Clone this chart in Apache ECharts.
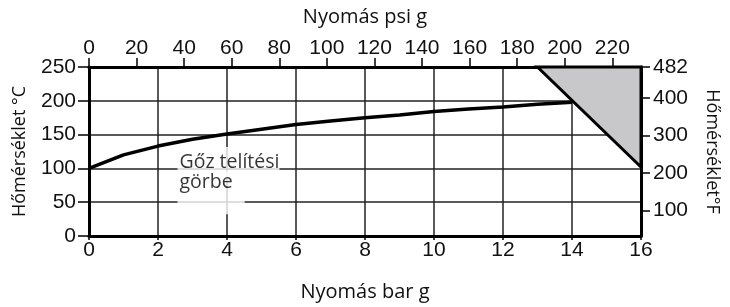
<!DOCTYPE html>
<html>
<head>
<meta charset="utf-8">
<script src="https://cdn.jsdelivr.net/npm/echarts@6/dist/echarts.min.js"></script>
<style>
  html, body { margin: 0; padding: 0; background: #fff; }
  #chart { width: 730px; height: 307px; }
</style>
</head>
<body>
<div id="chart"></div>
<script>
// telitesi gorbe (bar g -> °C)
const pressureBar = [0, 1, 2, 3, 4, 5, 6, 7, 8, 9, 10, 11, 12, 13, 14];
const tempC = [100, 120, 133, 143, 151, 158, 165, 170, 175, 179, 184, 188, 191, 195, 198];

// szurke haromszog csucsai
const zoneBar = [13, 16, 16];
const zoneTemp = [250, 250, 102];

const fahrenheitLabels = [100, 200, 300, 400, 482];
const noteLines = ["Gőz telítési", "görbe"];
const notePos = [[2.58, 131], [2.58, 95]];

const tickFont = "'Liberation Sans', Arial, sans-serif";
const textFont = "'Open Sans', sans-serif";

const chart = echarts.init(document.getElementById("chart"));

const notePadding = [[4, 0, 5, 2], [0, 12, 21, 2]];

chart.setOption({
  animation: false,
  grid: { left: 89, right: 89, top: 67, bottom: 70 },
  xAxis: [
    {
      type: "value",
      position: "bottom",
      min: 0,
      max: 16,
      interval: 2,
      name: "Nyomás bar g",
      nameLocation: "middle",
      nameGap: 46,
      nameTextStyle: { fontFamily: textFont, fontSize: 20, color: "#111" },
      axisLine: { onZero: false, lineStyle: { color: "#000", width: 3 } },
      axisTick: { show: true, length: 4, lineStyle: { color: "#000", width: 1.5 } },
      axisLabel: { fontFamily: tickFont, fontSize: 21, color: "#111", margin: 4 },
      splitLine: { show: true, lineStyle: { color: "#222", width: 1.5 } },
    },
    {
      type: "value",
      position: "top",
      min: 0,
      max: 16 * 14.5038,
      interval: 20,
      name: "Nyomás psi g",
      nameLocation: "middle",
      nameGap: 40,
      nameTextStyle: { fontFamily: textFont, fontSize: 20, color: "#111" },
      axisLine: { onZero: false, lineStyle: { color: "#000", width: 3 } },
      axisTick: { show: true, length: 9, lineStyle: { color: "#000", width: 1.5 } },
      axisLabel: {
        fontFamily: tickFont, fontSize: 21, color: "#111", margin: 8,
        showMaxLabel: false,
      },
      splitLine: { show: false },
    },
  ],
  yAxis: [
    {
      type: "value",
      position: "left",
      min: 0,
      max: 250,
      interval: 50,
      name: "Hőmérséklet °C",
      nameLocation: "middle",
      nameRotate: 90,
      nameGap: 60,
      nameTextStyle: { fontFamily: textFont, fontSize: 18, color: "#111" },
      axisLine: { onZero: false, lineStyle: { color: "#000", width: 3 } },
      axisTick: { show: true, length: 11, lineStyle: { color: "#000", width: 1.5 } },
      axisLabel: { fontFamily: tickFont, fontSize: 21, color: "#111", margin: 13 },
      splitLine: { show: true, lineStyle: { color: "#222", width: 1.5 } },
    },
    {
      type: "value",
      position: "right",
      min: 32,
      max: 482,
      name: "Hőmérséklet°F",
      nameLocation: "middle",
      nameRotate: -90,
      nameGap: 62,
      nameTextStyle: { fontFamily: textFont, fontSize: 18, color: "#111" },
      axisLine: { onZero: false, lineStyle: { color: "#000", width: 3 } },
      axisTick: {
        show: true, inside: false, length: 9,
        customValues: fahrenheitLabels,
        lineStyle: { color: "#000", width: 1.5 },
      },
      axisLabel: {
        fontFamily: tickFont, fontSize: 21, color: "#111", margin: 12,
        customValues: fahrenheitLabels,
      },
      splitLine: { show: false },
    },
  ],
  series: [
    {
      type: "custom",
      xAxisIndex: 0,
      yAxisIndex: 0,
      data: [0],
      renderItem: (params, api) => {
        const pts = zoneBar.map((b, i) => api.coord([b, zoneTemp[i]]));
        return {
          type: "polygon",
          shape: { points: pts },
          style: { fill: "#c8c8ca", stroke: "#000", lineWidth: 3, lineJoin: "miter" },
        };
      },
      silent: true,
    },
    {
      type: "line",
      xAxisIndex: 0,
      yAxisIndex: 0,
      data: pressureBar.map((p, i) => [p, tempC[i]]),
      symbol: "none",
      lineStyle: { color: "#000", width: 3.5 },
      z: 3,
    },
    {
      type: "scatter",
      xAxisIndex: 0,
      yAxisIndex: 0,
      symbolSize: 1,
      itemStyle: { color: "transparent" },
      silent: true,
      z: 4,
      data: notePos.map((p, i) => ({
        value: p,
        name: noteLines[i],
        label: {
          show: true,
          position: [0, 0],
          align: "left",
          verticalAlign: "top",
          formatter: "{b}",
          fontFamily: textFont,
          fontSize: 19.5,
          lineHeight: 22,
          color: "#000",
          backgroundColor: "#fff",
          padding: notePadding[i],
        },
      })),
    },
  ],
});
</script>
</body>
</html>
